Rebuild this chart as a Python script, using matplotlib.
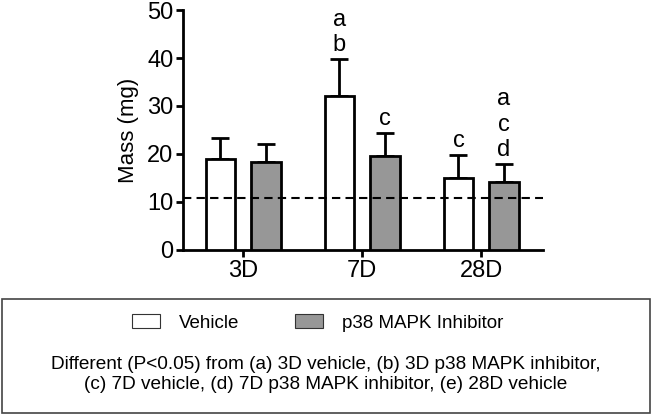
import numpy as np
import matplotlib
matplotlib.use("Agg")
import matplotlib.pyplot as plt
from matplotlib.patches import Rectangle, Patch

plt.rcParams['font.family'] = ['Liberation Sans', 'DejaVu Sans']

# datos
dias = ['3D', '7D', '28D']
vehiculo = [19.0, 32.1, 15.0]
vehiculo_err = [4.3, 7.7, 4.8]
inhibidor = [18.4, 19.6, 14.2]
inhibidor_err = [3.6, 4.7, 3.7]
letras_vehiculo = ['', 'a\nb', 'c']
letras_inhibidor = ['', 'c', 'a\nc\nd']
linea_base = 10.8

fig = plt.figure(figsize=(6.52, 4.15), dpi=100)
ax = fig.add_axes([0.2807, 0.3976, 0.5521, 0.5783])

x = np.arange(len(dias))
ancho = 0.25
desp = 0.19

ax.bar(x - desp, vehiculo, ancho, color='white', edgecolor='black', linewidth=2, zorder=3)
ax.bar(x + desp, inhibidor, ancho, color='#979797', edgecolor='black', linewidth=2, zorder=3)
ax.errorbar(x - desp, vehiculo, yerr=[np.zeros(3), vehiculo_err], fmt='none',
            ecolor='black', elinewidth=2, capsize=6.5, capthick=2, zorder=2)
ax.errorbar(x + desp, inhibidor, yerr=[np.zeros(3), inhibidor_err], fmt='none',
            ecolor='black', elinewidth=2, capsize=6.5, capthick=2, zorder=2)

ax.axhline(linea_base, color='black', linestyle=(0, (4, 2.5)), linewidth=1.5, zorder=4)

for i in range(3):
    if letras_vehiculo[i]:
        ax.text(x[i] - desp, vehiculo[i] + vehiculo_err[i] + 0.6, letras_vehiculo[i],
                ha='center', va='bottom', fontsize=17, linespacing=1.2)
    if letras_inhibidor[i]:
        ax.text(x[i] + desp, inhibidor[i] + inhibidor_err[i] + 0.6, letras_inhibidor[i],
                ha='center', va='bottom', fontsize=17, linespacing=1.2)

ax.set_xlim(-0.504, 2.52)
ax.set_ylim(0, 50)
ax.set_yticks([0, 10, 20, 30, 40, 50])
ax.set_xticks(x)
ax.set_xticklabels(dias)
ax.tick_params(axis='both', labelsize=17, width=2, length=5, direction='out', pad=2)
ax.set_ylabel('Mass (mg)', fontsize=16, labelpad=6)
for lado in ['top', 'right']:
    ax.spines[lado].set_visible(False)
for lado in ['left', 'bottom']:
    ax.spines[lado].set_linewidth(2)

# cuadro de leyenda
caja = Rectangle((0.003, 0.005), 0.994, 0.275, transform=fig.transFigure,
                 facecolor='white', edgecolor='#444444', linewidth=1.2)
fig.patches.append(caja)

manejadores = [Patch(facecolor='white', edgecolor='#333333', linewidth=0.8),
               Patch(facecolor='#979797', edgecolor='#333333', linewidth=0.8)]
fig.legend(manejadores, ['Vehicle', 'p38 MAPK Inhibitor'], loc='center',
           bbox_to_anchor=(0.487, 0.222), ncol=2, frameon=False, fontsize=13.5,
           handlelength=1.5, handleheight=0.8, columnspacing=3.0, handletextpad=1.0)

fig.text(0.5, 0.098, 'Different (P<0.05) from (a) 3D vehicle, (b) 3D p38 MAPK inhibitor,\n'
         '(c) 7D vehicle, (d) 7D p38 MAPK inhibitor, (e) 28D vehicle',
         ha='center', va='center', fontsize=13.7, linespacing=1.25)

fig.savefig('out.png', dpi=100)
